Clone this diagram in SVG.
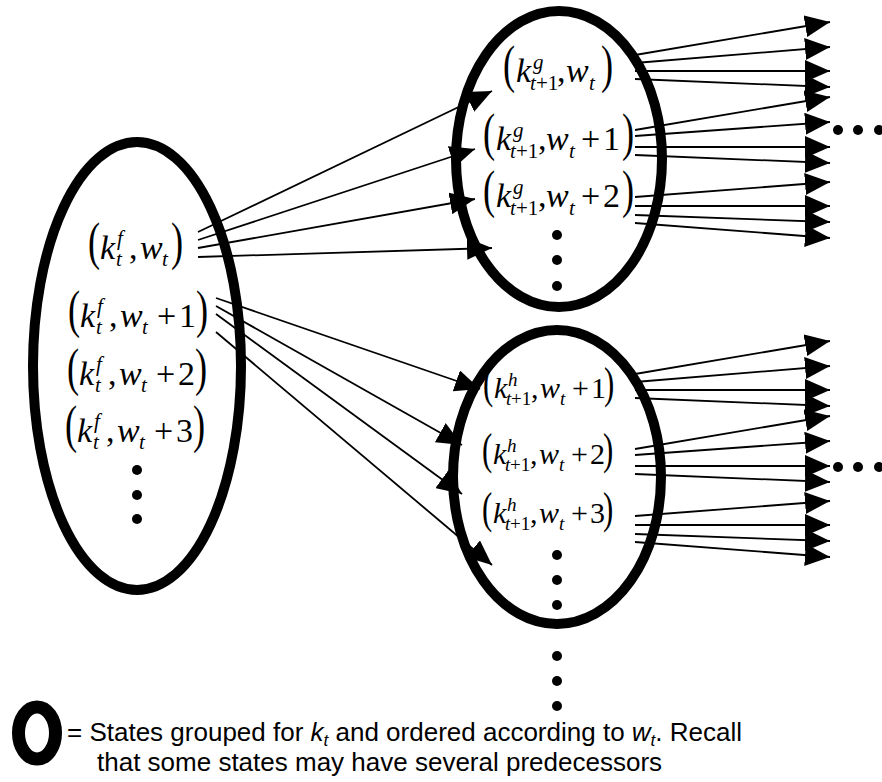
<svg xmlns="http://www.w3.org/2000/svg" width="882" height="782" viewBox="0 0 882 782">
<style>
.bg{fill:#fff}
.ell{fill:none;stroke:#000;stroke-width:10}
.c{fill:none;stroke:#000;stroke-width:1.8;marker-end:url(#ah)}
.dot{fill:#000}
.mt{font-family:"Liberation Serif","Times New Roman",serif;font-size:34px;fill:#000}
.mb{font-family:"Liberation Serif","Times New Roman",serif;font-size:30px;fill:#000}
.it{font-style:italic}
.sm{font-size:21px}
.sb{font-size:19px}
.pr{font-size:52px}
.pb{font-size:44px}
.lg{font-family:"Liberation Sans",Arial,sans-serif;font-size:26px;fill:#000}
</style>
<defs>
<marker id="ah" viewBox="0 0 25 22" refX="25" refY="11" markerWidth="25" markerHeight="22" markerUnits="userSpaceOnUse" orient="auto">
<path d="M0,0 L25,11 L0,22 z" fill="#000"/>
</marker>
</defs>
<rect class="bg" x="0" y="0" width="882" height="782"/>

<g id="connectors">
<path class="c" d="M198,232 L492,91"/>
<path class="c" d="M198,240 L475,149"/>
<path class="c" d="M198,248 L475,199"/>
<path class="c" d="M198,257 L492,248"/>
<path class="c" d="M216,298 L480,389"/>
<path class="c" d="M216,306 L462,445"/>
<path class="c" d="M216,314 L462,494"/>
<path class="c" d="M216,332 L492,565"/>
<g id="out-g">
<path class="c" d="M635,55 L830,22"/>
<path class="c" d="M635,63 L830,47"/>
<path class="c" d="M635,71 L830,71"/>
<path class="c" d="M635,79 L830,87"/>
<path class="c" d="M635,130 L830,97"/>
<path class="c" d="M635,136 L830,122"/>
<path class="c" d="M635,147 L830,147"/>
<path class="c" d="M635,155 L830,163"/>
<path class="c" d="M635,197 L830,182"/>
<path class="c" d="M635,206 L830,206"/>
<path class="c" d="M635,215 L830,222"/>
<path class="c" d="M635,223 L830,238"/>
</g>
<g id="out-h">
<path class="c" d="M635,374 L830,341"/>
<path class="c" d="M635,382 L830,366"/>
<path class="c" d="M635,390 L830,390"/>
<path class="c" d="M635,398 L830,406"/>
<path class="c" d="M635,449 L830,416"/>
<path class="c" d="M635,455 L830,441"/>
<path class="c" d="M635,466 L830,466"/>
<path class="c" d="M635,474 L830,482"/>
<path class="c" d="M635,516 L830,501"/>
<path class="c" d="M635,525 L830,525"/>
<path class="c" d="M635,534 L830,541"/>
<path class="c" d="M635,542 L830,557"/>
</g>
</g>

<g id="group-f">
<ellipse class="ell" cx="137" cy="366" rx="104" ry="224"/>
<g id="f-row1">
<text class="mt pr" transform="translate(88,259) scale(0.7,1)">(</text>
<text class="mt it" x="100" y="259">k</text>
<text class="mt it sm" x="117" y="245">f</text>
<text class="mt it sm" x="116" y="266">t</text>
<text class="mt" x="129" y="259">,</text>
<text class="mt it" x="140" y="259">w</text>
<text class="mt it sm" x="162" y="266">t</text>
<text class="mt pr" transform="translate(171,259) scale(0.7,1)">)</text>
</g>
<g id="f-row2">
<text class="mt pr" transform="translate(68,327) scale(0.7,1)">(</text>
<text class="mt it" x="80" y="327">k</text>
<text class="mt it sm" x="97" y="313">f</text>
<text class="mt it sm" x="96" y="334">t</text>
<text class="mt" x="109" y="327">,</text>
<text class="mt it" x="120" y="327">w</text>
<text class="mt it sm" x="142" y="334">t</text>
<text class="mt" x="157" y="327">+</text>
<text class="mt" x="179" y="327">1</text>
<text class="mt pr" transform="translate(196,327) scale(0.7,1)">)</text>
</g>
<g id="f-row3">
<text class="mt pr" transform="translate(67,385) scale(0.7,1)">(</text>
<text class="mt it" x="79" y="385">k</text>
<text class="mt it sm" x="96" y="371">f</text>
<text class="mt it sm" x="95" y="392">t</text>
<text class="mt" x="108" y="385">,</text>
<text class="mt it" x="119" y="385">w</text>
<text class="mt it sm" x="141" y="392">t</text>
<text class="mt" x="156" y="385">+</text>
<text class="mt" x="178" y="385">2</text>
<text class="mt pr" transform="translate(195,385) scale(0.7,1)">)</text>
</g>
<g id="f-row4">
<text class="mt pr" transform="translate(65,442) scale(0.7,1)">(</text>
<text class="mt it" x="77" y="442">k</text>
<text class="mt it sm" x="94" y="428">f</text>
<text class="mt it sm" x="93" y="449">t</text>
<text class="mt" x="106" y="442">,</text>
<text class="mt it" x="117" y="442">w</text>
<text class="mt it sm" x="139" y="449">t</text>
<text class="mt" x="154" y="442">+</text>
<text class="mt" x="176" y="442">3</text>
<text class="mt pr" transform="translate(193,442) scale(0.7,1)">)</text>
</g>
<circle class="dot" cx="137" cy="470" r="5"/>
<circle class="dot" cx="137" cy="495" r="5"/>
<circle class="dot" cx="137" cy="519" r="5"/>
</g>

<g id="group-g">
<ellipse class="ell" cx="559" cy="159" rx="103" ry="148"/>
<g id="g-row1">
<text class="mt pr" transform="translate(503,82) scale(0.7,1)">(</text>
<text class="mt it" x="516" y="82">k</text>
<text class="mt it sm" x="533" y="69">g</text>
<text class="mt it sm" x="530" y="90">t</text>
<text class="mt sm" x="536" y="90">+1</text>
<text class="mt" x="557" y="82">,</text>
<text class="mt it" x="566" y="82">w</text>
<text class="mt it sm" x="589" y="90">t</text>
<text class="mt pr" transform="translate(601,82) scale(0.7,1)">)</text>
</g>
<g id="g-row2">
<text class="mt pr" transform="translate(483,150) scale(0.7,1)">(</text>
<text class="mt it" x="496" y="150">k</text>
<text class="mt it sm" x="513" y="137">g</text>
<text class="mt it sm" x="510" y="158">t</text>
<text class="mt sm" x="516" y="158">+1</text>
<text class="mt" x="538" y="150">,</text>
<text class="mt it" x="546" y="150">w</text>
<text class="mt it sm" x="569" y="158">t</text>
<text class="mt" x="581" y="150">+</text>
<text class="mt" x="603" y="150">1</text>
<text class="mt pr" transform="translate(622,150) scale(0.7,1)">)</text>
</g>
<g id="g-row3">
<text class="mt pr" transform="translate(483,207) scale(0.7,1)">(</text>
<text class="mt it" x="496" y="207">k</text>
<text class="mt it sm" x="513" y="194">g</text>
<text class="mt it sm" x="510" y="215">t</text>
<text class="mt sm" x="516" y="215">+1</text>
<text class="mt" x="538" y="207">,</text>
<text class="mt it" x="546" y="207">w</text>
<text class="mt it sm" x="569" y="215">t</text>
<text class="mt" x="581" y="207">+</text>
<text class="mt" x="603" y="207">2</text>
<text class="mt pr" transform="translate(622,207) scale(0.7,1)">)</text>
</g>
<circle class="dot" cx="557" cy="235" r="5"/>
<circle class="dot" cx="557" cy="260" r="5"/>
<circle class="dot" cx="557" cy="286" r="5"/>
</g>

<g id="group-h">
<ellipse class="ell" cx="557" cy="477" rx="104" ry="147"/>
<g id="h-row1">
<text class="mb pb" transform="translate(483,398) scale(0.7,1)">(</text>
<text class="mb it" x="494" y="398">k</text>
<text class="mb it sb" x="508" y="386">h</text>
<text class="mb it sb" x="506" y="405">t</text>
<text class="mb sb" x="511" y="405">+1</text>
<text class="mb" x="531" y="398">,</text>
<text class="mb it" x="540" y="398">w</text>
<text class="mb it sb" x="560" y="405">t</text>
<text class="mb" x="572" y="398">+</text>
<text class="mb" x="591" y="398">1</text>
<text class="mb pb" transform="translate(604,398) scale(0.7,1)">)</text>
</g>
<g id="h-row2">
<text class="mb pb" transform="translate(482,464) scale(0.7,1)">(</text>
<text class="mb it" x="493" y="464">k</text>
<text class="mb it sb" x="507" y="452">h</text>
<text class="mb it sb" x="505" y="471">t</text>
<text class="mb sb" x="510" y="471">+1</text>
<text class="mb" x="530" y="464">,</text>
<text class="mb it" x="539" y="464">w</text>
<text class="mb it sb" x="559" y="471">t</text>
<text class="mb" x="571" y="464">+</text>
<text class="mb" x="590" y="464">2</text>
<text class="mb pb" transform="translate(603,464) scale(0.7,1)">)</text>
</g>
<g id="h-row3">
<text class="mb pb" transform="translate(482,523) scale(0.7,1)">(</text>
<text class="mb it" x="493" y="523">k</text>
<text class="mb it sb" x="507" y="511">h</text>
<text class="mb it sb" x="505" y="530">t</text>
<text class="mb sb" x="510" y="530">+1</text>
<text class="mb" x="530" y="523">,</text>
<text class="mb it" x="539" y="523">w</text>
<text class="mb it sb" x="559" y="530">t</text>
<text class="mb" x="571" y="523">+</text>
<text class="mb" x="590" y="523">3</text>
<text class="mb pb" transform="translate(603,523) scale(0.7,1)">)</text>
</g>
<circle class="dot" cx="557" cy="555" r="5"/>
<circle class="dot" cx="557" cy="580" r="5"/>
<circle class="dot" cx="557" cy="605" r="5"/>
</g>

<g id="continuation-dots">
<circle class="dot" cx="557" cy="656" r="5"/>
<circle class="dot" cx="557" cy="681" r="5"/>
<circle class="dot" cx="557" cy="706" r="5"/>
<circle class="dot" cx="838" cy="130" r="5"/>
<circle class="dot" cx="858" cy="130" r="5"/>
<circle class="dot" cx="879" cy="130" r="5"/>
<circle class="dot" cx="838" cy="467" r="5"/>
<circle class="dot" cx="858" cy="467" r="5"/>
<circle class="dot" cx="879" cy="467" r="5"/>
</g>

<g id="legend">
<ellipse cx="37" cy="733" rx="18.5" ry="26" fill="none" stroke="#000" stroke-width="13"/>
<text class="lg" x="67" y="741">= States grouped for <tspan font-style="italic">k</tspan><tspan font-style="italic" font-size="17" dy="5">t</tspan><tspan dy="-5"> and ordered according to </tspan><tspan font-style="italic">w</tspan><tspan font-style="italic" font-size="17" dy="5">t</tspan><tspan dy="-5">. Recall</tspan></text>
<text class="lg" x="97" y="771">that some states may have several predecessors</text>
</g>
</svg>
